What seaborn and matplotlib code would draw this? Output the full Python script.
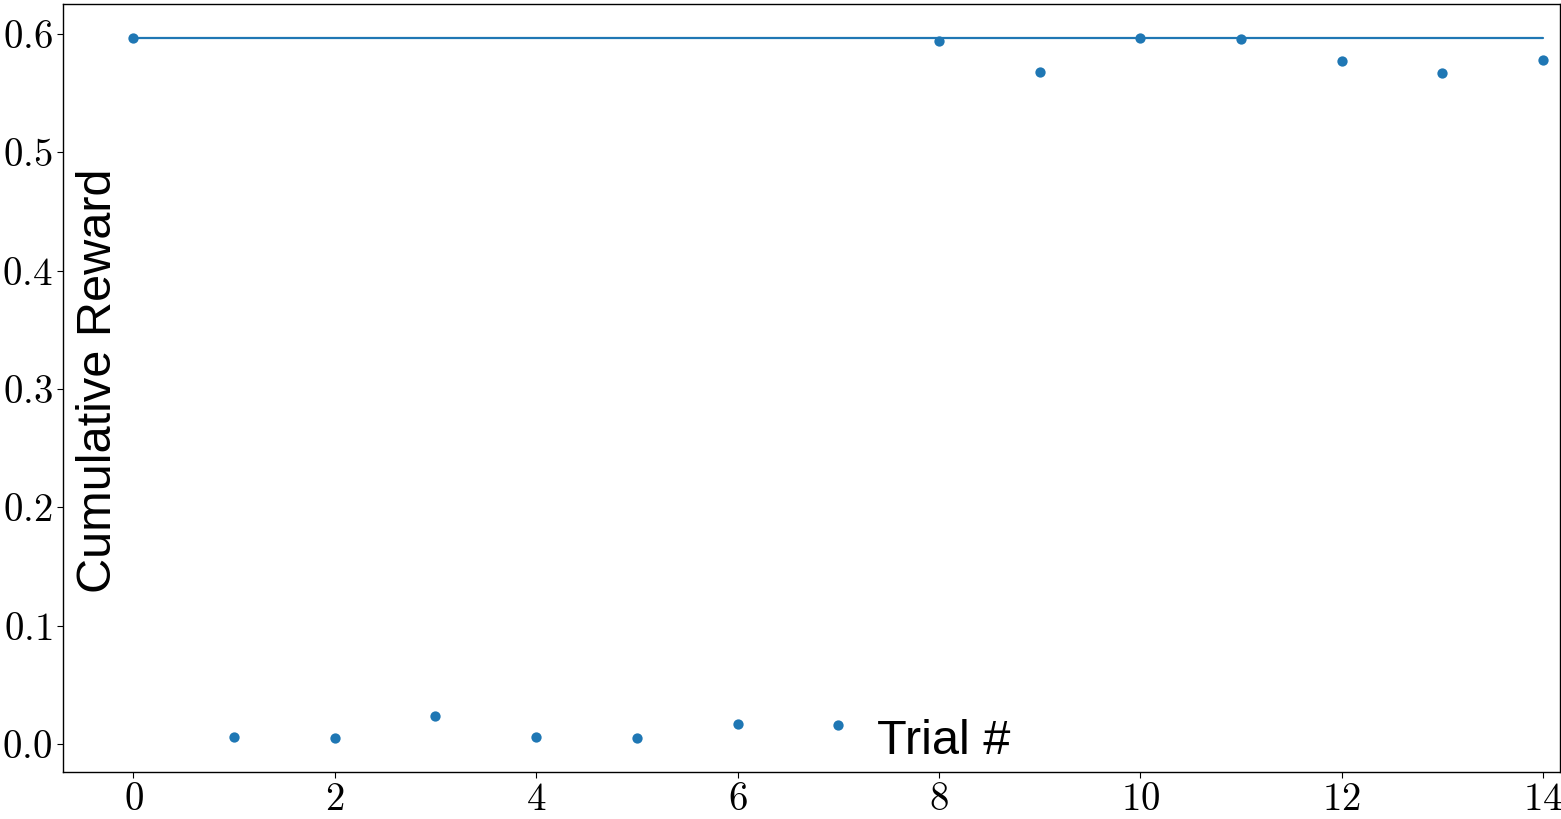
import numpy as np
import pandas as pd
import matplotlib
matplotlib.use("Agg")
import matplotlib.pyplot as plt
import seaborn as sns

trials = list(range(15))
rewards = [0.5966, 0.0059, 0.0051, 0.0237, 0.0059, 0.0051, 0.0169, 0.0161,
           0.5940, 0.5680, 0.5966, 0.5958, 0.5770, 0.5670, 0.5780]
x_ticks = [0, 2, 4, 6, 8, 10, 12, 14]
y_ticks = [0.0, 0.1, 0.2, 0.3, 0.4, 0.5, 0.6]
x_label = "Trial #"
y_label = "Cumulative Reward"

sns.set_style("ticks")
plt.rcParams["font.family"] = ["Liberation Sans", "DejaVu Sans"]
plt.rcParams["mathtext.fontset"] = "cm"
plt.rcParams["text.color"] = "black"
plt.rcParams["axes.labelcolor"] = "black"

df = pd.DataFrame({"trial": trials, "reward": rewards})
best = pd.DataFrame({"trial": trials, "reward": [max(rewards)] * len(trials)})

fig = plt.figure(figsize=(15.61, 8.19), dpi=100)
ax = fig.add_axes([63 / 1561, 1 - 772 / 819, (1560 - 63) / 1561, (772 - 4) / 819])

color = "#1f77b4"
sns.lineplot(data=best, x="trial", y="reward", ax=ax, color=color, linewidth=1.6)
sns.scatterplot(data=df, x="trial", y="reward", ax=ax, color=color, s=55,
                linewidth=0, zorder=3)

ax.set_xlim(-0.7, 14.17)
ax.set_ylim(-0.0237, 0.6254)
ax.set_xticks(x_ticks)
ax.set_xticklabels([f"${t}$" for t in x_ticks])
ax.set_yticks(y_ticks)
ax.set_yticklabels([f"${t:.1f}$" for t in y_ticks])
ax.tick_params(labelsize=28, length=4, width=0.8, colors="black")
for s in ax.spines.values():
    s.set_visible(True)
    s.set_color("black")
    s.set_linewidth(1.0)

ax.set_xlabel(x_label, fontsize=35, color="black")
ax.xaxis.set_label_coords(0.5435, 0.040)
ax.xaxis.label.set(ha="left", va="center")
ax.set_ylabel(y_label, fontsize=35, color="black")
ax.yaxis.set_label_coords(0.0235, 0.51)
ax.yaxis.label.set(ha="center", va="center")

fig.savefig("out.png", dpi=100)
